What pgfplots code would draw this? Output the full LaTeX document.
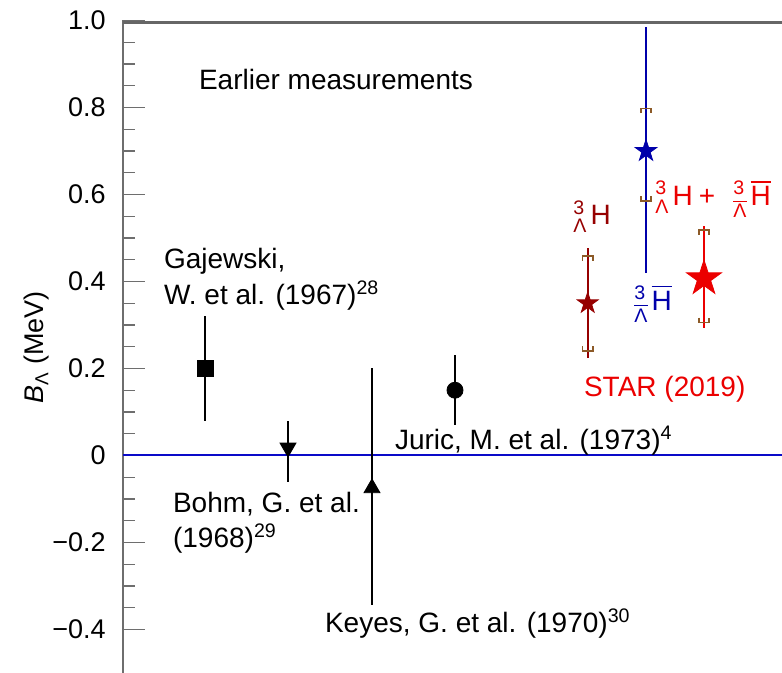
\documentclass[border=0pt]{standalone}
\usepackage{amsmath}
\usepackage{fontspec}
\setmainfont{Liberation Sans}
\usepackage{pgfplots}
\pgfplotsset{compat=1.18}

\definecolor{starblue}{RGB}{0,0,170}
\definecolor{zeroblue}{RGB}{10,10,200}
\definecolor{hdred}{RGB}{150,0,0}
\definecolor{starred}{RGB}{235,0,0}
\definecolor{syst}{RGB}{140,90,40}
\definecolor{axgray}{RGB}{110,110,110}

\newcommand\ann{\fontsize{14}{16.8}\selectfont}
\newcommand\hyp{${}^{\text{3}}_{\text{Λ}}\mkern2mu$H}
\newcommand\ahyp{${}^{\text{3}}_{\overline{\text{Λ}}}\mkern2mu\overline{\text{H}}$}

% filled five-pointed star
\pgfdeclareplotmark{fstar}{%
  \pgfpathmoveto{\pgfpointpolar{90}{\pgfplotmarksize}}%
  \pgfpathlineto{\pgfpointpolar{126}{0.382\pgfplotmarksize}}%
  \pgfpathlineto{\pgfpointpolar{162}{\pgfplotmarksize}}%
  \pgfpathlineto{\pgfpointpolar{198}{0.382\pgfplotmarksize}}%
  \pgfpathlineto{\pgfpointpolar{234}{\pgfplotmarksize}}%
  \pgfpathlineto{\pgfpointpolar{270}{0.382\pgfplotmarksize}}%
  \pgfpathlineto{\pgfpointpolar{306}{\pgfplotmarksize}}%
  \pgfpathlineto{\pgfpointpolar{342}{0.382\pgfplotmarksize}}%
  \pgfpathlineto{\pgfpointpolar{18}{\pgfplotmarksize}}%
  \pgfpathlineto{\pgfpointpolar{54}{0.382\pgfplotmarksize}}%
  \pgfpathclose
  \pgfusepathqfillstroke}
% systematic brackets, upper and lower
\pgfdeclareplotmark{sysup}{%
  \pgfpathmoveto{\pgfpoint{-\pgfplotmarksize}{-0.9\pgfplotmarksize}}%
  \pgfpathlineto{\pgfpoint{-\pgfplotmarksize}{0pt}}%
  \pgfpathlineto{\pgfpoint{\pgfplotmarksize}{0pt}}%
  \pgfpathlineto{\pgfpoint{\pgfplotmarksize}{-0.9\pgfplotmarksize}}%
  \pgfusepathqstroke}
\pgfdeclareplotmark{syslow}{%
  \pgfpathmoveto{\pgfpoint{-\pgfplotmarksize}{0.9\pgfplotmarksize}}%
  \pgfpathlineto{\pgfpoint{-\pgfplotmarksize}{0pt}}%
  \pgfpathlineto{\pgfpoint{\pgfplotmarksize}{0pt}}%
  \pgfpathlineto{\pgfpoint{\pgfplotmarksize}{0.9\pgfplotmarksize}}%
  \pgfusepathqstroke}

\begin{document}
\begin{tikzpicture}
\useasboundingbox (-61.5pt,0pt) rectangle (329.5pt,336.5pt);
\begin{axis}[
  name=ax,
  at={(0,0)}, anchor=south west,
  scale only axis, width=329.5pt, height=326.25pt,
  xmin=123, xmax=782, ymin=-0.5, ymax=1.0,
  axis x line=none, axis y line*=left,
  axis line style={-, draw=axgray, line width=1pt},
  xtick=\empty,
  ytick={-0.4,-0.2,0,0.2,0.4,0.6,0.8,1.0},
  yticklabels={−0.4,−0.2,0,0.2,0.4,0.6,0.8,1.0},
  minor y tick num=3,
  tick align=inside,
  major tick length=11pt, minor tick length=6pt,
  tick style={draw=axgray, line width=0.7pt},
  yticklabel style={font=\fontsize{13.5}{16}\selectfont, inner sep=0pt, xshift=-8.5pt},
  ylabel={$\text{\itshape B}_{\text{Λ}}$ (MeV)},
  every axis y label/.style={at={(axis cs:37,0.248)}, rotate=90, anchor=center,
    font=\fontsize{13.5}{16}\selectfont},
  clip=false,
  error bars/error bar style={line width=1pt},
]
% top frame line
\addplot[black!60, line width=1.5pt] coordinates {(123,0.995) (782,0.995)};
% zero line
\addplot[zeroblue, line width=1pt] coordinates {(123,0) (782,0)};

% earlier measurements
\addplot[only marks, black, mark=square*, mark size=4pt,
  error bars/.cd, y dir=both, y explicit, error mark=none]
  coordinates {(205,0.20) +- (0,0.12)};
\addplot[only marks, black, mark=triangle*, mark size=4.6pt, mark options={rotate=180},
  error bars/.cd, y dir=both, y explicit, error mark=none]
  coordinates {(288,0.018) += (0,0.061) -= (0,0.079)};
\addplot[only marks, black, mark=triangle*, mark size=4.6pt,
  error bars/.cd, y dir=both, y explicit, error mark=none]
  coordinates {(372,-0.075) += (0,0.275) -= (0,0.268)};
\addplot[only marks, black, mark=*, mark size=4pt,
  error bars/.cd, y dir=both, y explicit, error mark=none]
  coordinates {(455,0.15) +- (0,0.08)};

% STAR (2019)
\addplot[only marks, hdred, mark=fstar, mark size=5.5pt,
  error bars/.cd, y dir=both, y explicit, error mark=none]
  coordinates {(587.7,0.35) +- (0,0.127)};
\addplot[only marks, starblue, mark=fstar, mark size=5.7pt,
  error bars/.cd, y dir=both, y explicit, error mark=none]
  coordinates {(646,0.70) += (0,0.284) -= (0,0.28)};
\addplot[only marks, starred, mark=fstar, mark size=9.2pt,
  error bars/.cd, y dir=both, y explicit, error mark=none]
  coordinates {(704,0.407) += (0,0.12) -= (0,0.113)};
% systematic uncertainties
\addplot[only marks, syst, line width=0.8pt, mark=sysup, mark size=2.6pt]
  coordinates {(587.7,0.458) (646,0.798) (704,0.518)};
\addplot[only marks, syst, line width=0.8pt, mark=syslow, mark size=2.6pt]
  coordinates {(587.7,0.240) (646,0.585) (704,0.306)};

% annotations
\node[anchor=base west, font=\ann] at (axis cs:192,0.841) {Earlier measurements};
\node[anchor=base west, font=\ann] at (axis cs:157,0.430) {Gajewski,};
\node[anchor=base west, font=\ann] at (axis cs:157,0.347) {W. et al. (1967)\textsuperscript{28}};
\node[anchor=base west, font=\ann] at (axis cs:166,-0.130) {Bohm, G. et al.};
\node[anchor=base west, font=\ann] at (axis cs:166,-0.2115) {(1968)\textsuperscript{29}};
\node[anchor=base west, font=\ann] at (axis cs:318,-0.407) {Keyes, G. et al. (1970)\textsuperscript{30}};
\node[anchor=base west, font=\ann] at (axis cs:388,0.0138) {Juric, M. et al. (1973)\textsuperscript{4}};
\node[anchor=base west, font=\ann, text=starred] at (axis cs:577,0.136) {STAR (2019)};
\node[anchor=base west, font=\ann, text=hdred, inner sep=0pt] at (axis cs:573,0.531) {\hyp};
\node[anchor=base west, font=\ann, text=starred, inner sep=0pt] at (axis cs:655,0.575)
  {\hyp\hspace{3pt}+\hspace{9pt}\ahyp};
\node[anchor=base west, font=\ann, text=starblue, inner sep=0pt] at (axis cs:634,0.334) {\ahyp};
\end{axis}
\end{tikzpicture}
\end{document}
